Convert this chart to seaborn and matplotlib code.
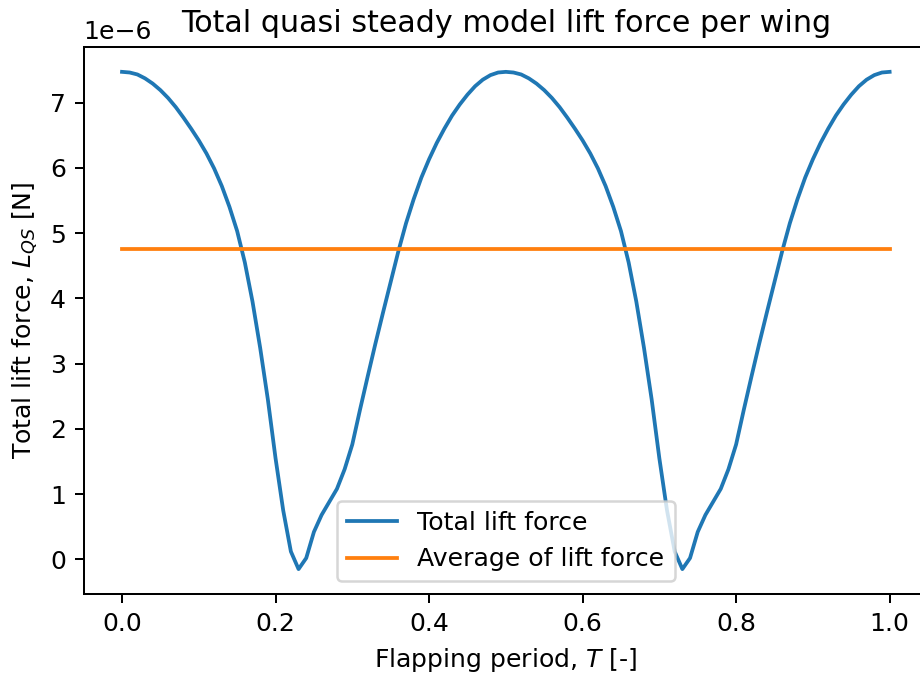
import numpy as np
import pandas as pd
import seaborn as sns
import matplotlib.pyplot as plt

# Periodo de aleteo (fraccion del ciclo)
periodo = [round(0.01 * i, 2) for i in range(101)]

# Sustentacion total, en micro-newton
lift_uN = [
    7.47, 7.46, 7.43, 7.37, 7.29, 7.19, 7.07, 6.93, 6.77, 6.60,
    6.42, 6.22, 5.99, 5.72, 5.40, 5.03, 4.55, 3.95, 3.24, 2.45,
    1.55, 0.75, 0.12, -0.15, 0.02, 0.42, 0.68, 0.88, 1.08, 1.38,
    1.76, 2.29, 2.80, 3.30, 3.78, 4.25, 4.72, 5.15, 5.52, 5.85,
    6.13, 6.38, 6.60, 6.80, 6.97, 7.12, 7.25, 7.35, 7.42, 7.46,
    7.47, 7.46, 7.43, 7.37, 7.29, 7.19, 7.07, 6.93, 6.77, 6.60,
    6.42, 6.22, 5.99, 5.72, 5.40, 5.03, 4.55, 3.95, 3.24, 2.45,
    1.55, 0.75, 0.12, -0.15, 0.02, 0.42, 0.68, 0.88, 1.08, 1.38,
    1.76, 2.29, 2.80, 3.30, 3.78, 4.25, 4.72, 5.15, 5.52, 5.85,
    6.13, 6.38, 6.60, 6.80, 6.97, 7.12, 7.25, 7.35, 7.42, 7.46,
    7.47,
]

# Promedio de la sustentacion
promedio_uN = 4.75

df = pd.DataFrame({
    "T": periodo,
    "L": np.array(lift_uN) * 1e-6,
    "Lavg": promedio_uN * 1e-6,
})

DPI = 181
fig, ax = plt.subplots(figsize=(920 / DPI, 677 / DPI), dpi=DPI)

sns.lineplot(data=df, x="T", y="L", ax=ax, color="#1f77b4", linewidth=1.5,
             label="Total lift force")
sns.lineplot(data=df, x="T", y="Lavg", ax=ax, color="#ff7f0e", linewidth=1.5,
             label="Average of lift force")

ax.set_title("Total quasi steady model lift force per wing", fontsize=12)
ax.set_xlabel("Flapping period, $T$ [-]")
ax.set_ylabel("Total lift force, $L_{QS}$ [N]")
ax.set_xticks([0.0, 0.2, 0.4, 0.6, 0.8, 1.0])
ax.legend(loc="lower center")

# el eje derecho queda recortado como en la figura original
fig.subplots_adjust(left=0.0909, right=1.0087, top=0.9306, bottom=0.1226)
plt.savefig("out.png")
